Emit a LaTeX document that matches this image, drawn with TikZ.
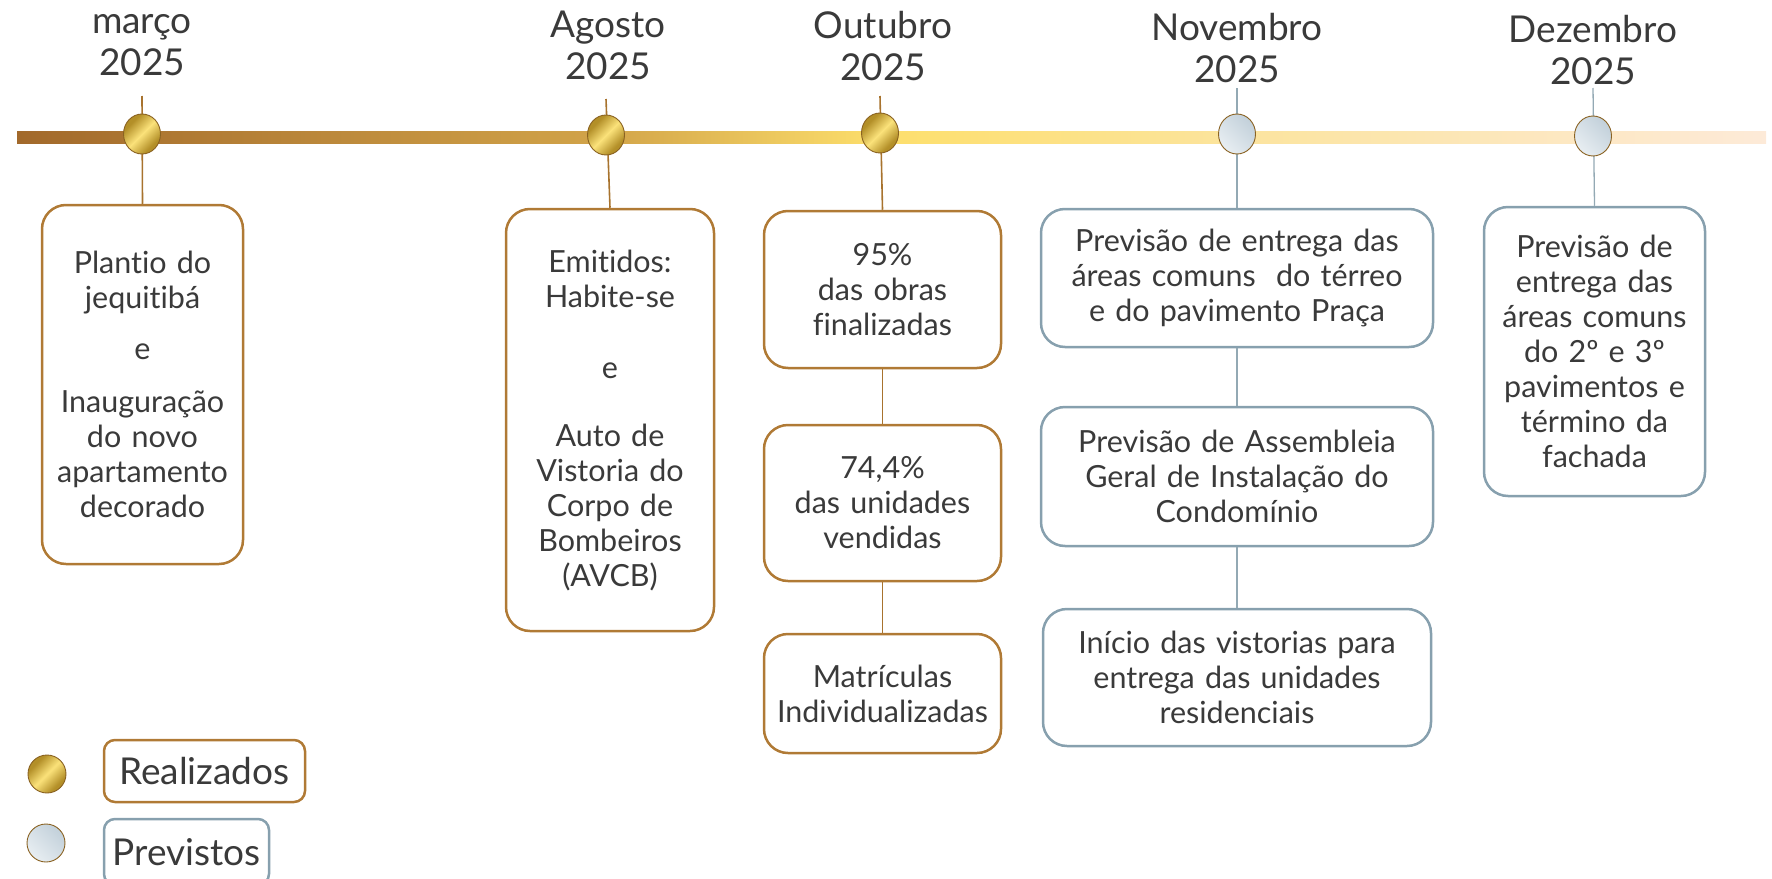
\documentclass[tikz,border=0pt]{standalone}
\usepackage{fontspec}
\setmainfont{Lato}[Ligatures=NoCommon]
\usetikzlibrary{shapes.geometric}
\definecolor{goldline}{HTML}{B07A35}
\definecolor{goldconn}{HTML}{A8732E}
\definecolor{grayline}{HTML}{87A0AE}
\definecolor{grayconn}{HTML}{93A9B4}
\definecolor{txt}{HTML}{3A3A3A}
\definecolor{ballrim}{HTML}{8A6222}
\definecolor{b0}{HTML}{A2692B}
\definecolor{b1}{HTML}{D2A449}
\definecolor{b2}{HTML}{FDDF6C}
\definecolor{b3}{HTML}{FCE49E}
\definecolor{b4}{HTML}{FDEAD8}
\definecolor{g0}{HTML}{B38F28}
\definecolor{g1}{HTML}{FBE27A}
\definecolor{s0}{HTML}{C2D0DA}
\definecolor{s1}{HTML}{E8EEF2}
\pgfdeclarehorizontalshading{barshade}{100bp}{color(0bp)=(b0); color(25bp)=(b0); color(41.8bp)=(b1); color(49.7bp)=(b2); color(59.9bp)=(b3); color(75bp)=(b4); color(100bp)=(b4)}
\pgfdeclarehorizontalshading{goldball}{100bp}{color(0bp)=(g0); color(30bp)=(g0); color(50bp)=(g1); color(70bp)=(g0); color(100bp)=(g0)}
\newcommand{\bxfont}{\fontsize{30.5}{35}\selectfont}
\newcommand{\mofont}{\fontsize{37}{42}\selectfont}
\newcommand{\lgfont}{\fontsize{37}{42}\selectfont}
\tikzset{
  donebox/.style={draw=goldline, line width=2.5pt, rounded corners=24pt, fill=white, align=center, text=txt, font=\bxfont, inner sep=0pt},
  planbox/.style={draw=grayline, line width=2.5pt, rounded corners=24pt, fill=white, align=center, text=txt, font=\bxfont, inner sep=0pt},
  goldlink/.style={draw=goldconn, line width=1.6pt},
  graylink/.style={draw=grayconn, line width=1.3pt},
  goldball/.style={ellipse, draw=ballrim, line width=0.9pt, shading=goldball, shading angle=-45, minimum width=37pt, minimum height=40pt, inner sep=0pt},
  grayball/.style={ellipse, draw=ballrim, line width=0.9pt, left color=s0, right color=s1, shading angle=-45, minimum width=37pt, minimum height=40pt, inner sep=0pt},
  month/.style={align=center, text=txt, font=\mofont, inner sep=0pt}
}
\begin{document}
\begin{tikzpicture}[x=1pt,y=-1pt]
\useasboundingbox (0,0) rectangle (1772,878);
\clip (0,0) rectangle (1772,878);
% month labels
\node[month] (m1) at (142,45) {março\\2025};
\node[month] (m2) at (608,45) {Agosto\\2025};
\node[month] (m3) at (883,46) {Outubro\\2025};
\node[month] (m4) at (1237,48) {Novembro\\2025};
\node[month] (m5) at (1593,50) {Dezembro\\2025};
% boxes
\node[donebox, minimum width=201pt, minimum height=359pt, text width=190pt] (b1) at (142.5,384.5)
  {Plantio do\\jequitibá\\[16pt]e\\[18pt]Inauguração\\do novo\\apartamento\\decorado};
\node[donebox, minimum width=208pt, minimum height=422pt, text width=196pt] (b2) at (610,420)
  {Emitidos:\\Habite-se\\[36pt]e\\[33pt]Auto de\\Vistoria do\\Corpo de\\Bombeiros\\(AVCB)};
\node[donebox, minimum width=237pt, minimum height=157pt, text width=226pt] (b3) at (882.5,289.5)
  {95\%\\das obras\\finalizadas};
\node[donebox, minimum width=237pt, minimum height=156pt, text width=226pt] (b4) at (882.5,503)
  {74,4\%\\das unidades\\vendidas};
\node[donebox, minimum width=237pt, minimum height=119pt, text width=226pt] (b5) at (882.5,693.5)
  {Matrículas\\Individualizadas};
\node[planbox, minimum width=392pt, minimum height=138pt, text width=380pt] (b6) at (1237,278)
  {Previsão de entrega das\\áreas comuns\ \ do térreo\\e do pavimento Praça};
\node[planbox, minimum width=392pt, minimum height=139pt, text width=380pt] (b7) at (1237,476.5)
  {Previsão de Assembleia\\Geral de Instalação do\\Condomínio};
\node[planbox, minimum width=388pt, minimum height=137pt, text width=376pt] (b8) at (1237,677.5)
  {Início das vistorias para\\entrega das unidades\\residenciais};
\node[planbox, minimum width=221pt, minimum height=289pt, text width=210pt] (b9) at (1594.5,351.5)
  {Previsão de\\entrega das\\áreas comuns\\do 2º e 3º\\pavimentos e\\término da\\fachada};
% connector tops
\coordinate (t1) at (142,96);
\coordinate (t2) at (606,99);
\coordinate (t3) at (880,96);
\coordinate (t4) at (1237,88);
\coordinate (t5) at (1593,88);
\draw[goldlink] (t1) -- (b1.north);
\draw[goldlink] (t2) -- (b2.north);
\draw[goldlink] (t3) -- (b3.north);
\draw[goldlink] (b3.south) -- (b4.north);
\draw[goldlink] (b4.south) -- (b5.north);
\draw[graylink] (t4) -- (b6.north);
\draw[graylink] (b6.south) -- (b7.north);
\draw[graylink] (b7.south) -- (b8.north);
\draw[graylink] (t5) -- (b9.north);
% bar
\shade[shading=barshade] (17,131) rectangle (1766,143);
% balls
\node[goldball] (c1) at (142,134) {};
\node[goldball] (c2) at (606,135) {};
\node[goldball] (c3) at (880,133) {};
\node[grayball] (c4) at (1237,134) {};
\node[grayball] (c5) at (1593,136) {};
% legend
\node[goldball, minimum width=38pt, minimum height=38pt] (l1) at (47,774) {};
\node[grayball, minimum width=38pt, minimum height=38pt] (l2) at (46,843) {};
\node[draw=goldline, line width=2.5pt, rounded corners=11pt, minimum width=201pt, minimum height=62pt, text=txt, font=\lgfont, inner sep=0pt] (r1) at (204.5,771) {Realizados};
\node[draw=grayline, line width=2.5pt, rounded corners=11pt, minimum width=165pt, minimum height=66pt, text=txt, font=\lgfont, inner sep=0pt] (r2) at (186.5,852) {Previstos};
\end{tikzpicture}
\end{document}
